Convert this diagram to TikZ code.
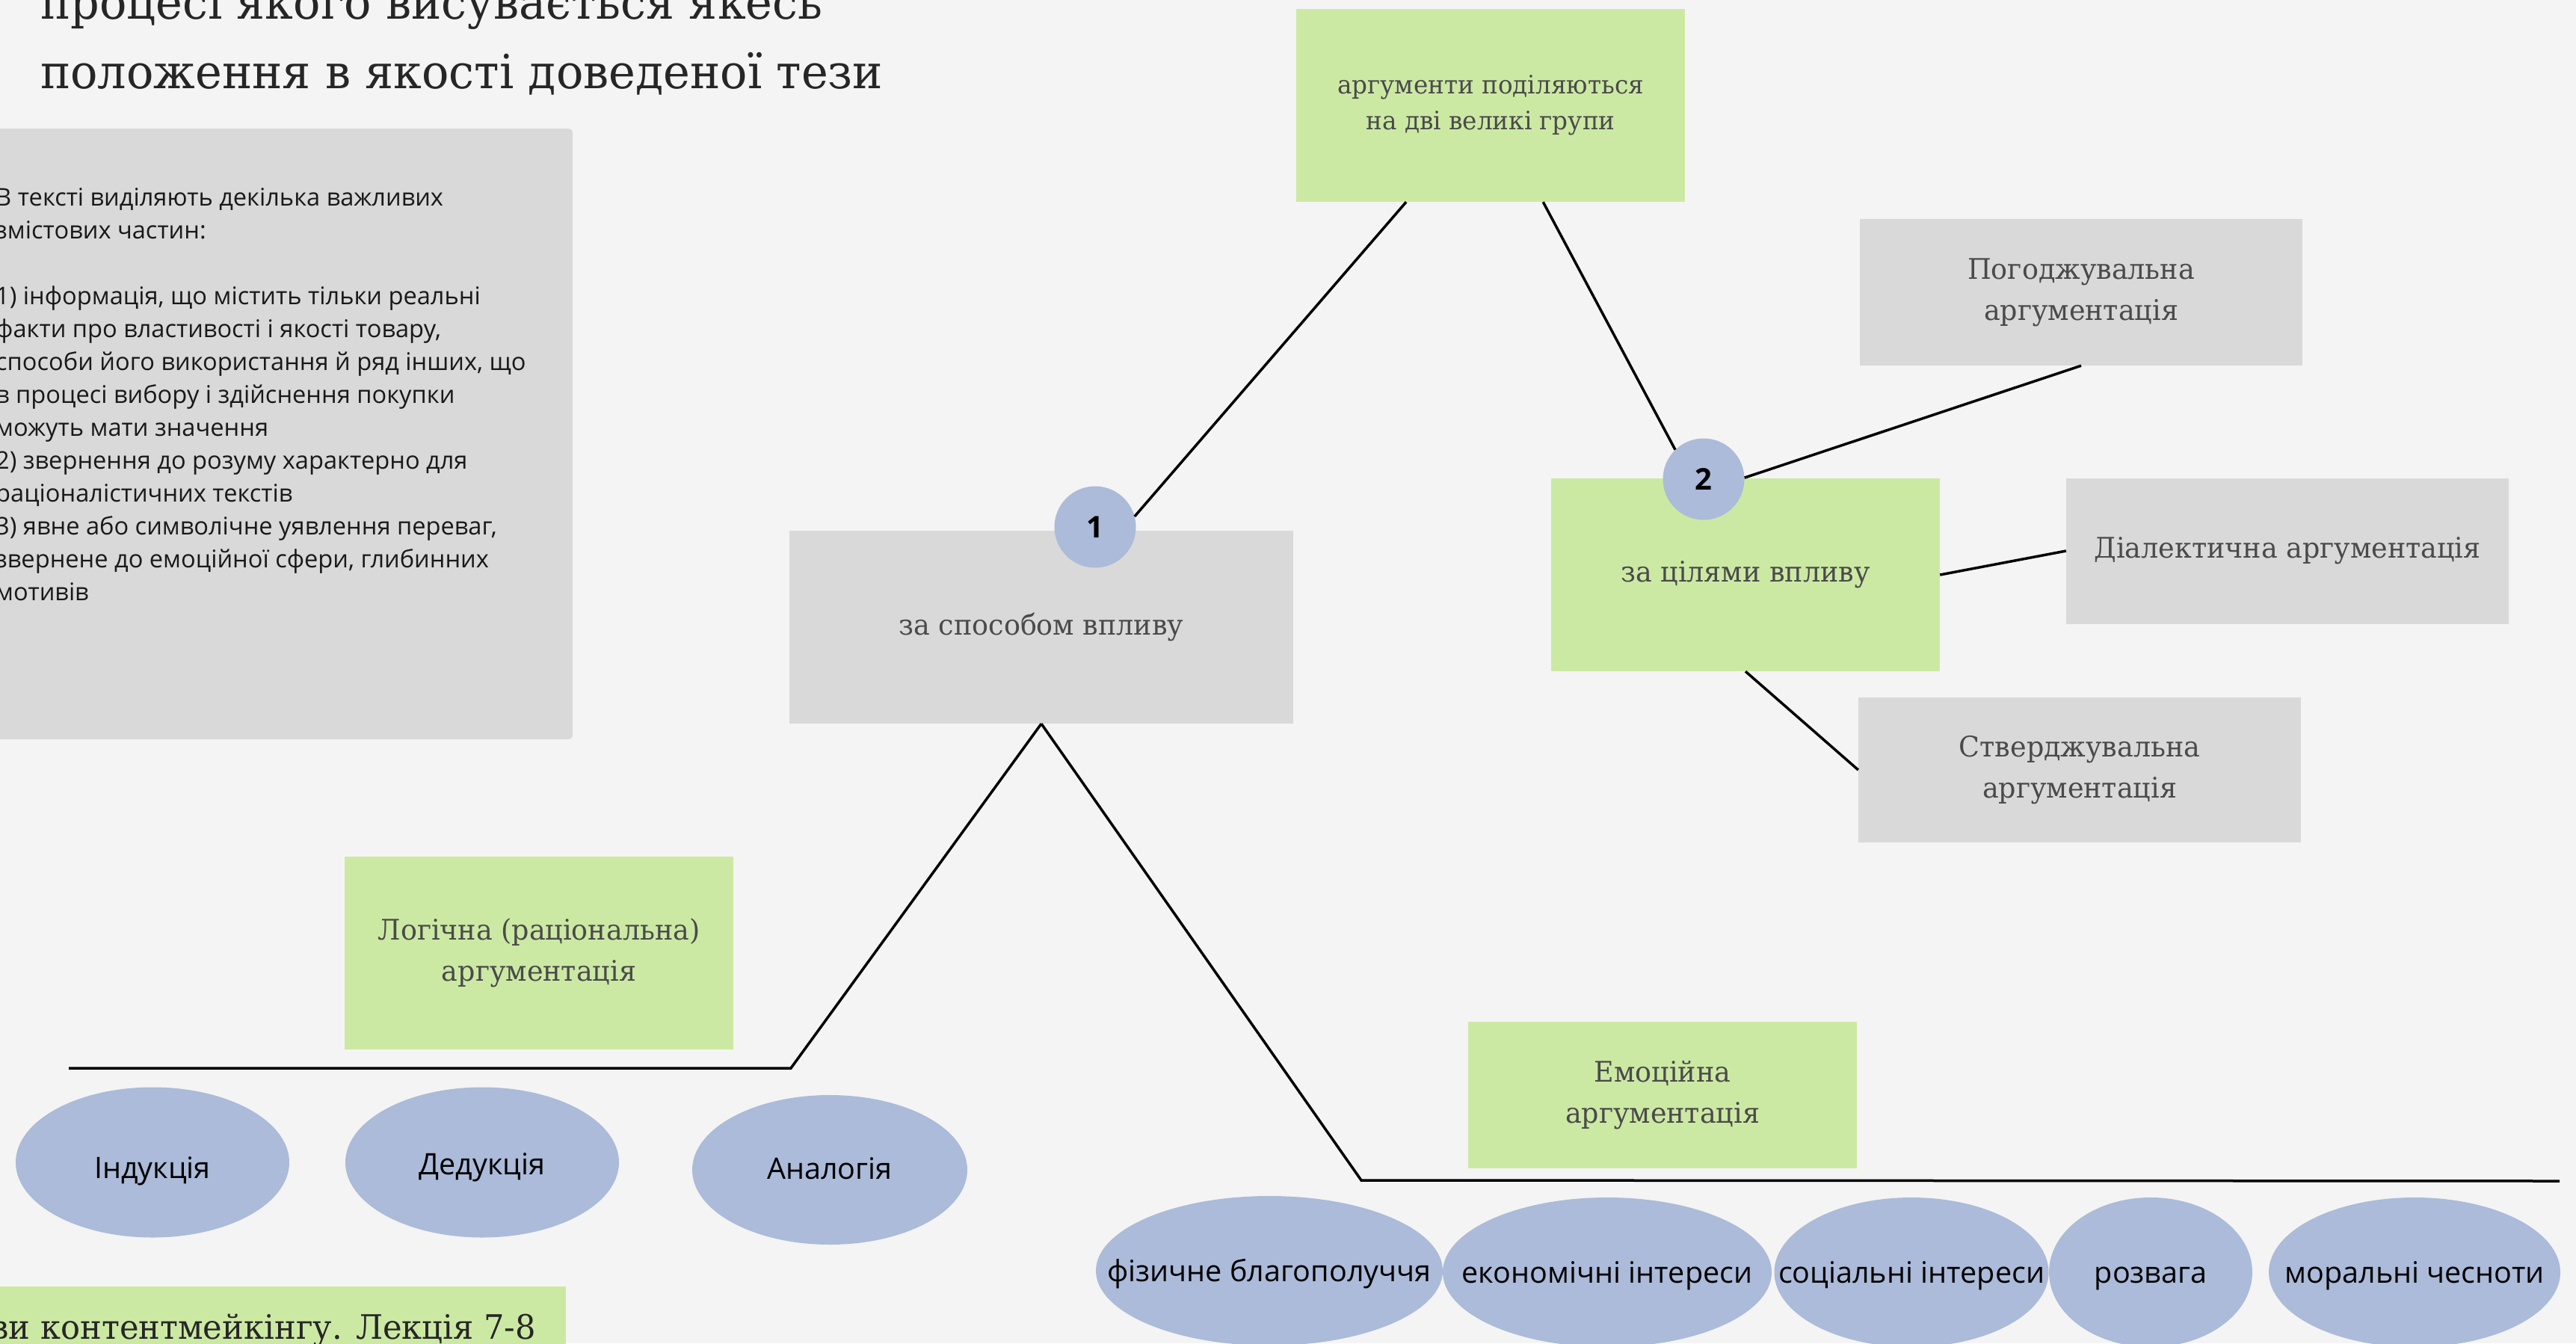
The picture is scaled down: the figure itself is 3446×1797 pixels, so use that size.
\documentclass[tikz,border=0pt]{standalone}
\usepackage{fontspec}
\usetikzlibrary{calc,shapes.geometric}
\setmainfont{Open Sans}
\newfontfamily\slab[FakeStretch=0.96]{DejaVu Serif}
\definecolor{bgc}{HTML}{F4F4F4}
\definecolor{grn}{HTML}{CCE9A4}
\definecolor{gry}{HTML}{D9D9D9}
\definecolor{blu}{HTML}{ABBBD9}
\definecolor{txg}{HTML}{4A4A4A}
\newcommand{\ovtext}[2]{\makebox[0pt]{\raisebox{#1}[0pt][0pt]{#2}}}
\begin{document}
\begin{tikzpicture}[x=1pt,y=-1pt,
  gbox/.style={rectangle,fill=grn,inner sep=0,align=center,text=txg,font={\slab\fontsize{38}{55}\selectfont}},
  ybox/.style={rectangle,fill=gry,inner sep=0,align=center,text=txg,font={\slab\fontsize{38}{55}\selectfont}},
  oval/.style={ellipse,fill=blu,inner sep=0,text=black,font={\fontsize{39.5}{44}\selectfont}},
  num/.style={circle,fill=blu,inner sep=0,minimum size=109pt,font={\bfseries\fontsize{40}{44}\selectfont}},
  conn/.style={line width=3.5pt,black}]
\useasboundingbox (0,0) rectangle (3446,1797);
\fill[bgc] (0,0) rectangle (3446,1797);
% title
\node[anchor=base west,inner sep=0,text=black!85,font={\slab\fontsize{63}{93}\selectfont}] (t1) at (54,25) {процесі якого висувається якесь};
\node[anchor=base west,inner sep=0,text=black!85,font={\slab\fontsize{63}{93}\selectfont}] (t2) at (54,118) {положення в якості доведеної тези};
% left text box
\fill[gry,rounded corners=6pt] (-20,172) rectangle (766,989);
\node[anchor=base west,inner sep=0,text=black!90] (info) at (-6,275) {\parbox[t]{760pt}{\fontsize{32.6}{44}\selectfont\raggedright
В тексті виділяють декілька важливих\\
змістових частин:\\
\mbox{}\\
1) інформація, що містить тільки реальні\\
факти про властивості і якості товару,\\
способи його використання й ряд інших, що\\
в процесі вибору і здійснення покупки\\
можуть мати значення\\
2) звернення до розуму характерно для\\
раціоналістичних текстів\\
3) явне або символічне уявлення переваг,\\
звернене до емоційної сфери, глибинних\\
мотивів}};
% boxes
\node[gbox,minimum width=520pt,minimum height=258pt,font={\slab\fontsize{34}{48}\selectfont}] (top) at (1994,141) {аргументи поділяються\\на дві великі групи};
\node[ybox,minimum width=674pt,minimum height=258pt] (zs) at (1393,839) {за способом впливу};
\node[gbox,minimum width=520pt,minimum height=258pt] (zc) at (2335,769) {за цілями впливу};
\node[ybox,minimum width=592pt,minimum height=196pt] (pog) at (2784,391) {Погоджувальна\\аргументація};
\node[ybox,minimum width=592pt,minimum height=195pt] (dial) at (3060,737) {Діалектична аргументація};
\node[ybox,minimum width=592pt,minimum height=194pt] (stv) at (2782,1030) {Стверджувальна\\аргументація};
\node[gbox,minimum width=520pt,minimum height=258pt] (log) at (721,1275) {Логічна (раціональна)\\аргументація};
\node[gbox,minimum width=520pt,minimum height=196pt] (emo) at (2224,1465) {Емоційна\\аргументація};
% number circles
\node[num] (c1) at (1465,705) {1};
\node[num] (c2) at (2279,641) {2};
% connectors top
\draw[conn] ($(top.south west)!0.283!(top.south east)$) -- (c1.15);
\draw[conn] ($(top.south west)!0.635!(top.south east)$) -- (c2.134);
\draw[conn] (c2.2) -- (pog.south);
\draw[conn] (zc.east) -- (dial.west);
\draw[conn] (zc.south) -- (stv.west);
% lower branches
\coordinate (lk) at (1058,1429);
\coordinate (le) at (92,1429);
\coordinate (rk) at (1821,1579);
\coordinate (re) at (3424,1580);
\draw[conn,line join=miter] (zs.south) -- (lk) -- (le);
\draw[conn,line join=miter] (zs.south) -- (rk) -- (re);
% ellipses
\node[oval,minimum width=366pt,minimum height=201pt] (ind) at (204,1555) {\ovtext{-21pt}{Індукція}};
\node[oval,minimum width=366pt,minimum height=201pt] (ded) at (645,1555) {\ovtext{-16pt}{Дедукція}};
\node[oval,minimum width=368pt,minimum height=200pt] (ana) at (1110,1565) {\ovtext{-12pt}{Аналогія}};
\node[oval,minimum width=464pt,minimum height=200pt] (fiz) at (1698,1700) {\ovtext{-14pt}{фізичне благополуччя}};
\node[oval,minimum width=440pt,minimum height=200pt] (eko) at (2150,1702) {\ovtext{-14pt}{економічні інтереси}};
\node[oval,minimum width=367pt,minimum height=200pt] (soc) at (2557,1702) {\ovtext{-14pt}{соціальні інтереси}};
\node[oval,minimum width=272pt,minimum height=200pt] (roz) at (2877,1702) {\ovtext{-14pt}{розвага}};
\node[oval,minimum width=390pt,minimum height=200pt] (mor) at (3230,1702) {\ovtext{-14pt}{моральні чесноти}};
% footer
\fill[grn] (-10,1721) rectangle (757,1830);
\node[anchor=base east,inner sep=0,text=black!85,font={\slab\fontsize{45}{60}\selectfont}] (foot) at (717,1791) {ви контентмейкінгу. Лекція 7-8};
\end{tikzpicture}
\end{document}
